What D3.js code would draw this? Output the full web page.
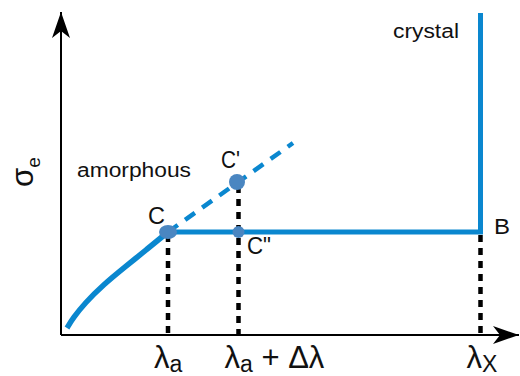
<!DOCTYPE html>
<meta charset="utf-8">
<html>
<head>
    <script src="https://d3js.org/d3.v7.min.js"></script>
    <style>
        body { margin: 0; background: #fff; }
        svg text { font-family: 'Liberation Sans', Arial, sans-serif; fill: #111; }
    </style>
</head>
<body>
    <svg width="520" height="376"></svg>
    <script>
        // values in chart units (lambda along x, sigma_e along y)
        const curveLambda = [6, 12, 24, 42, 64, 85, 107];
        const curveSigma = [7, 17, 32, 50, 68, 85, 103];
        const lambdaA = 107;
        const lambdaADelta = 177.5;
        const lambdaX = 419.5;
        const sigmaPlateau = 103;
        const sigmaCPrime = 152;
        const sigmaCrystalTop = 322;
        const dashedEnd = [232, 192];
        const tickLabels = [
            { v: lambdaA, main: "λ", sub: "a", rest: "" },
            { v: lambdaADelta, main: "λ", sub: "a", rest: " + Δλ" },
            { v: lambdaX, main: "λ", sub: "X", rest: "" }
        ];

        const svg = d3.select("svg");
        const blue = "#0a87cf";
        const dotColor = "#4a86c1";

        const xScale = d3.scaleLinear().domain([0, 458]).range([61, 519]);
        const yScale = d3.scaleLinear().domain([0, 323]).range([335, 12]);

        // arrow markers
        const defs = svg.append("defs");
        defs.append("marker")
            .attr("id", "arrow")
            .attr("viewBox", "0 0 26 18")
            .attr("refX", 26).attr("refY", 9)
            .attr("markerWidth", 26).attr("markerHeight", 18)
            .attr("markerUnits", "userSpaceOnUse")
            .attr("orient", "auto")
            .append("path")
            .attr("d", "M0,0 L26,9 L0,18 L7,9 Z")
            .attr("fill", "#000");

        // axes
        svg.append("line")
            .attr("x1", xScale(0)).attr("y1", yScale(0))
            .attr("x2", xScale(0)).attr("y2", yScale(323))
            .attr("stroke", "#000").attr("stroke-width", 2)
            .attr("marker-end", "url(#arrow)");
        svg.append("line")
            .attr("x1", xScale(0)).attr("y1", yScale(0))
            .attr("x2", xScale(458)).attr("y2", yScale(0))
            .attr("stroke", "#000").attr("stroke-width", 2)
            .attr("marker-end", "url(#arrow)");

        // black dashed drop lines
        const drops = [[lambdaA, sigmaPlateau], [lambdaADelta, sigmaCPrime], [lambdaX, sigmaPlateau]];
        svg.selectAll(".drop").data(drops).enter().append("line")
            .attr("class", "drop")
            .attr("x1", d => xScale(d[0])).attr("x2", d => xScale(d[0]))
            .attr("y1", d => yScale(d[1]) + 3).attr("y2", yScale(-2))
            .attr("stroke", "#000").attr("stroke-width", 4.5)
            .attr("stroke-dasharray", "7,6");

        // dashed continuation of amorphous branch
        svg.append("line")
            .attr("x1", xScale(lambdaA)).attr("y1", yScale(sigmaPlateau))
            .attr("x2", xScale(dashedEnd[0])).attr("y2", yScale(dashedEnd[1]))
            .attr("stroke", blue).attr("stroke-width", 4.5)
            .attr("stroke-dasharray", "12,9");

        // amorphous curve
        const line = d3.line()
            .x(d => xScale(d[0]))
            .y(d => yScale(d[1]))
            .curve(d3.curveBasis);
        svg.append("path")
            .datum(d3.zip(curveLambda, curveSigma))
            .attr("d", line)
            .attr("fill", "none")
            .attr("stroke", blue).attr("stroke-width", 5.5)
            .attr("stroke-linecap", "butt");

        // plateau and crystal branch
        svg.append("path")
            .datum([[lambdaA, sigmaPlateau], [lambdaX, sigmaPlateau], [lambdaX, sigmaCrystalTop]])
            .attr("d", d3.line().x(d => xScale(d[0])).y(d => yScale(d[1])))
            .attr("fill", "none")
            .attr("stroke", blue).attr("stroke-width", 5)
            .attr("stroke-linejoin", "miter");

        // points
        svg.append("ellipse")
            .attr("cx", xScale(lambdaA)).attr("cy", yScale(sigmaPlateau))
            .attr("rx", 9).attr("ry", 7).attr("fill", dotColor);
        svg.append("circle")
            .attr("cx", xScale(lambdaADelta) - 1.5).attr("cy", yScale(sigmaCPrime + 1))
            .attr("r", 8).attr("fill", dotColor);
        svg.append("circle")
            .attr("cx", xScale(lambdaADelta)).attr("cy", yScale(sigmaPlateau))
            .attr("r", 6).attr("fill", dotColor);

        // labels
        const label = (txt, x, y, size, len) => {
            const t = svg.append("text")
                .attr("x", x).attr("y", y).attr("font-size", size).text(txt);
            if (len) t.attr("textLength", len).attr("lengthAdjust", "spacingAndGlyphs");
            return t;
        };
        label("C", 148, 224, 23, 17);
        label("C'", 221, 168, 23, 19);
        label("C\"", 247, 254, 23, 24);
        label("B", 494, 234, 22, 16);
        label("crystal", 393, 38, 20, 66);
        label("amorphous", 77, 177, 20, 114);

        // y-axis title
        const yt = svg.append("text")
            .attr("transform", "translate(33,187) rotate(-90)")
            .attr("font-size", 31);
        yt.append("tspan").text("σ");
        yt.append("tspan").attr("font-size", 19).attr("dy", 7).text("e");

        // x tick labels
        const tl = svg.selectAll(".tick-label").data(tickLabels).enter().append("text")
            .attr("class", "tick-label")
            .attr("x", d => xScale(d.v) - 14)
            .attr("y", 368)
            .attr("font-size", 31);
        tl.append("tspan").text(d => d.main);
        tl.append("tspan").attr("font-size", 23).attr("dy", 4).text(d => d.sub);
        tl.append("tspan").attr("dy", -4).text(d => d.rest);
    </script>
</body>
</html>
